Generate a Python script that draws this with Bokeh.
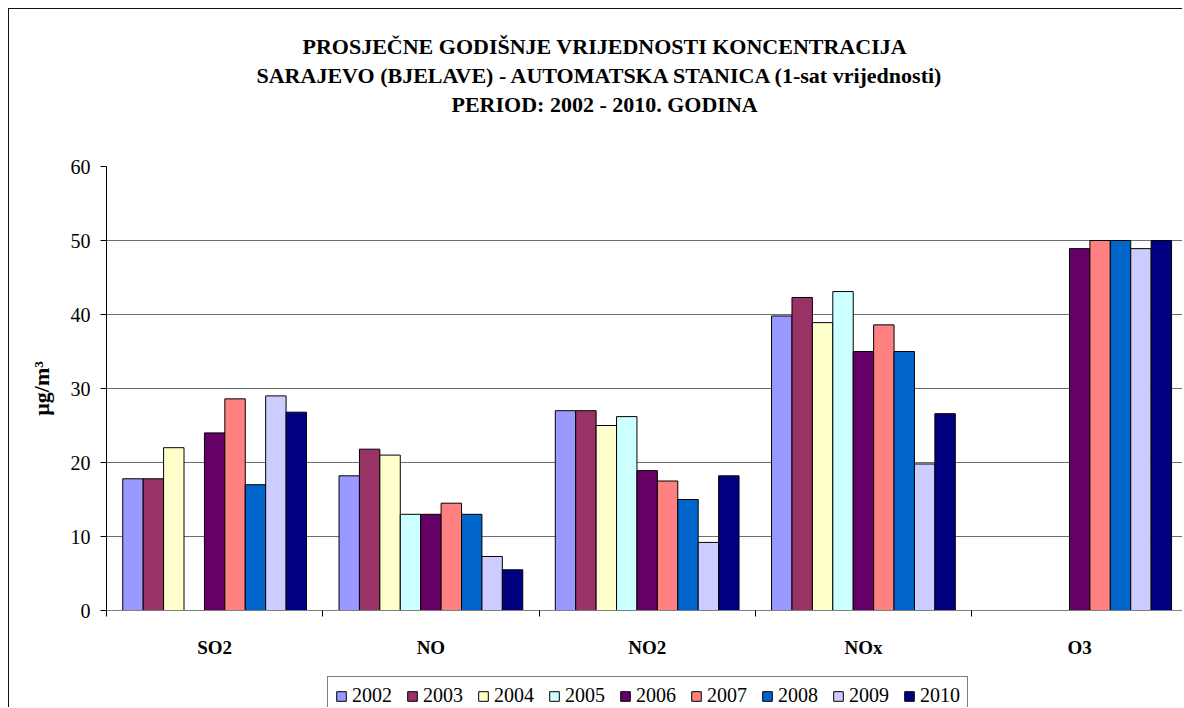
from bokeh.plotting import figure
from bokeh.layouts import column
from bokeh.models import (Range1d, FixedTicker, Legend, LegendItem, Title,
                          ColumnDataSource)
from bokeh.embed import file_html
from bokeh.resources import INLINE

# ---- data ----
categories = ["SO2", "NO", "NO2", "NOx", "O3"]
years = ["2002", "2003", "2004", "2005", "2006", "2007", "2008", "2009", "2010"]
v2002 = [17.8, 18.2, 27.0, 39.8, None]
v2003 = [17.8, 21.8, 27.0, 42.3, None]
v2004 = [22.0, 21.0, 25.0, 38.9, None]
v2005 = [None, 13.0, 26.2, 43.1, None]
v2006 = [24.0, 13.0, 18.9, 35.0, 48.9]
v2007 = [28.6, 14.5, 17.5, 38.6, 50.0]
v2008 = [17.0, 13.0, 15.0, 35.0, 50.0]
v2009 = [29.0, 7.3, 9.2, 19.8, 48.9]
v2010 = [26.8, 5.5, 18.2, 26.6, 50.0]
series = [v2002, v2003, v2004, v2005, v2006, v2007, v2008, v2009, v2010]
colors = ["#9999FF", "#993366", "#FFFFCC", "#CCFFFF", "#660066",
          "#FF8080", "#0066CC", "#CCCCFF", "#000080"]
y_ticks = [0, 10, 20, 30, 40, 50, 60]
title_lines = ["PROSJEČNE GODIŠNJE VRIJEDNOSTI KONCENTRACIJA",
               "SARAJEVO (BJELAVE) - AUTOMATSKA STANICA (1-sat vrijednosti)",
               "PERIOD: 2002 - 2010. GODINA"]
y_label = "µg/m³"

SERIF = "Liberation Serif"

p = figure(width=1174, height=652,
           x_range=Range1d(0, 4.98), y_range=Range1d(0, 60),
           output_backend="svg", toolbar_location=None,
           min_border_left=97, min_border_right=0,
           min_border_top=157, min_border_bottom=51)
p.outline_line_color = None
p.background_fill_color = "white"
p.border_fill_color = "white"
p.styles = {"margin-left": "8px", "margin-top": "8px",
            "border-left": "1px solid #111", "border-top": "1px solid #111"}

# legend strip (separate canvas below the chart); its y range lies far above
# the data so the shared bars do not show there, only their legend swatches
pl = figure(width=1174, height=47, x_range=Range1d(0, 4.98),
            y_range=Range1d(1000, 1001),
            output_backend="svg", toolbar_location=None,
            x_axis_type=None, y_axis_type=None, min_border=0)
pl.outline_line_color = None
pl.background_fill_color = "white"
pl.border_fill_color = "white"
pl.styles = {"margin-left": "8px", "border-left": "1px solid #111"}

bw = 0.0944
swatches = []
for j, (yr, vals, col) in enumerate(zip(years, series, colors)):
    xs, tops = [], []
    for i, v in enumerate(vals):
        if v is None:
            continue
        xs.append(i + 0.5 + (j - 4) * bw)
        tops.append(v)
    src = ColumnDataSource(dict(x=xs, top=tops))
    p.vbar(x="x", top="top", width=bw, source=src,
           fill_color=col, line_color="black", line_width=1)
    swatches.append(pl.vbar(x="x", top="top", width=bw, source=src,
                            fill_color=col, line_color="black", line_width=1))

# y axis
ya = p.yaxis[0]
ya.ticker = FixedTicker(ticks=y_ticks)
ya.minor_tick_line_color = None
ya.major_tick_out = 6
ya.major_tick_in = 0
ya.axis_line_color = "black"
ya.major_tick_line_color = "black"
ya.major_label_text_font = SERIF
ya.major_label_text_font_size = "20px"
ya.major_label_text_color = "black"
ya.major_label_standoff = 10
ya.axis_label = y_label
ya.axis_label_text_font = SERIF
ya.axis_label_text_font_style = "bold"
ya.axis_label_text_font_size = "22px"
ya.axis_label_text_color = "black"
ya.axis_label_standoff = 14

# x axis
xa = p.xaxis[0]
centers = [i + 0.5 for i in range(len(categories))]
xa.ticker = FixedTicker(ticks=centers,
                        minor_ticks=list(range(len(categories) + 1)))
xa.major_label_overrides = {c: lab for c, lab in zip(centers, categories)}
xa.major_tick_line_color = None
xa.major_tick_out = 0
xa.major_tick_in = 0
xa.minor_tick_out = 6
xa.minor_tick_in = 0
xa.minor_tick_line_color = "black"
xa.axis_line_color = "#808080"
xa.major_label_text_font = SERIF
xa.major_label_text_font_style = "bold"
xa.major_label_text_font_size = "19px"
xa.major_label_text_color = "black"
xa.major_label_standoff = 20

p.xgrid.grid_line_color = None
p.ygrid.grid_line_color = "#6e6e6e"
p.ygrid.grid_line_width = 1
p.ygrid.ticker = FixedTicker(ticks=y_ticks[1:])

# titles: spacer nearest the frame, then lines 3, 2, 1 outward
p.add_layout(Title(text=" ", text_font_size="10px", standoff=36), "above")
offsets = [196, 150, 345]
for txt, off in reversed(list(zip(title_lines, offsets))):
    p.add_layout(Title(text=txt, align="left", offset=off, standoff=2,
                       text_font=SERIF, text_font_style="bold",
                       text_font_size="22px", text_color="black"), "above")

legend = Legend(items=[LegendItem(label=yr, renderers=[r])
                       for yr, r in zip(years, swatches)],
                orientation="horizontal", location=(221, -8),
                label_text_font=SERIF, label_text_font_size="20px",
                label_text_color="black",
                glyph_width=12, glyph_height=12, label_standoff=5,
                spacing=14, padding=7, margin=0,
                label_height=20,
                border_line_color="black", border_line_width=1,
                background_fill_color="white", background_fill_alpha=1)
pl.add_layout(legend, "center")

layout = column(p, pl, spacing=0)
open("out.html", "w").write(file_html(layout, INLINE))
